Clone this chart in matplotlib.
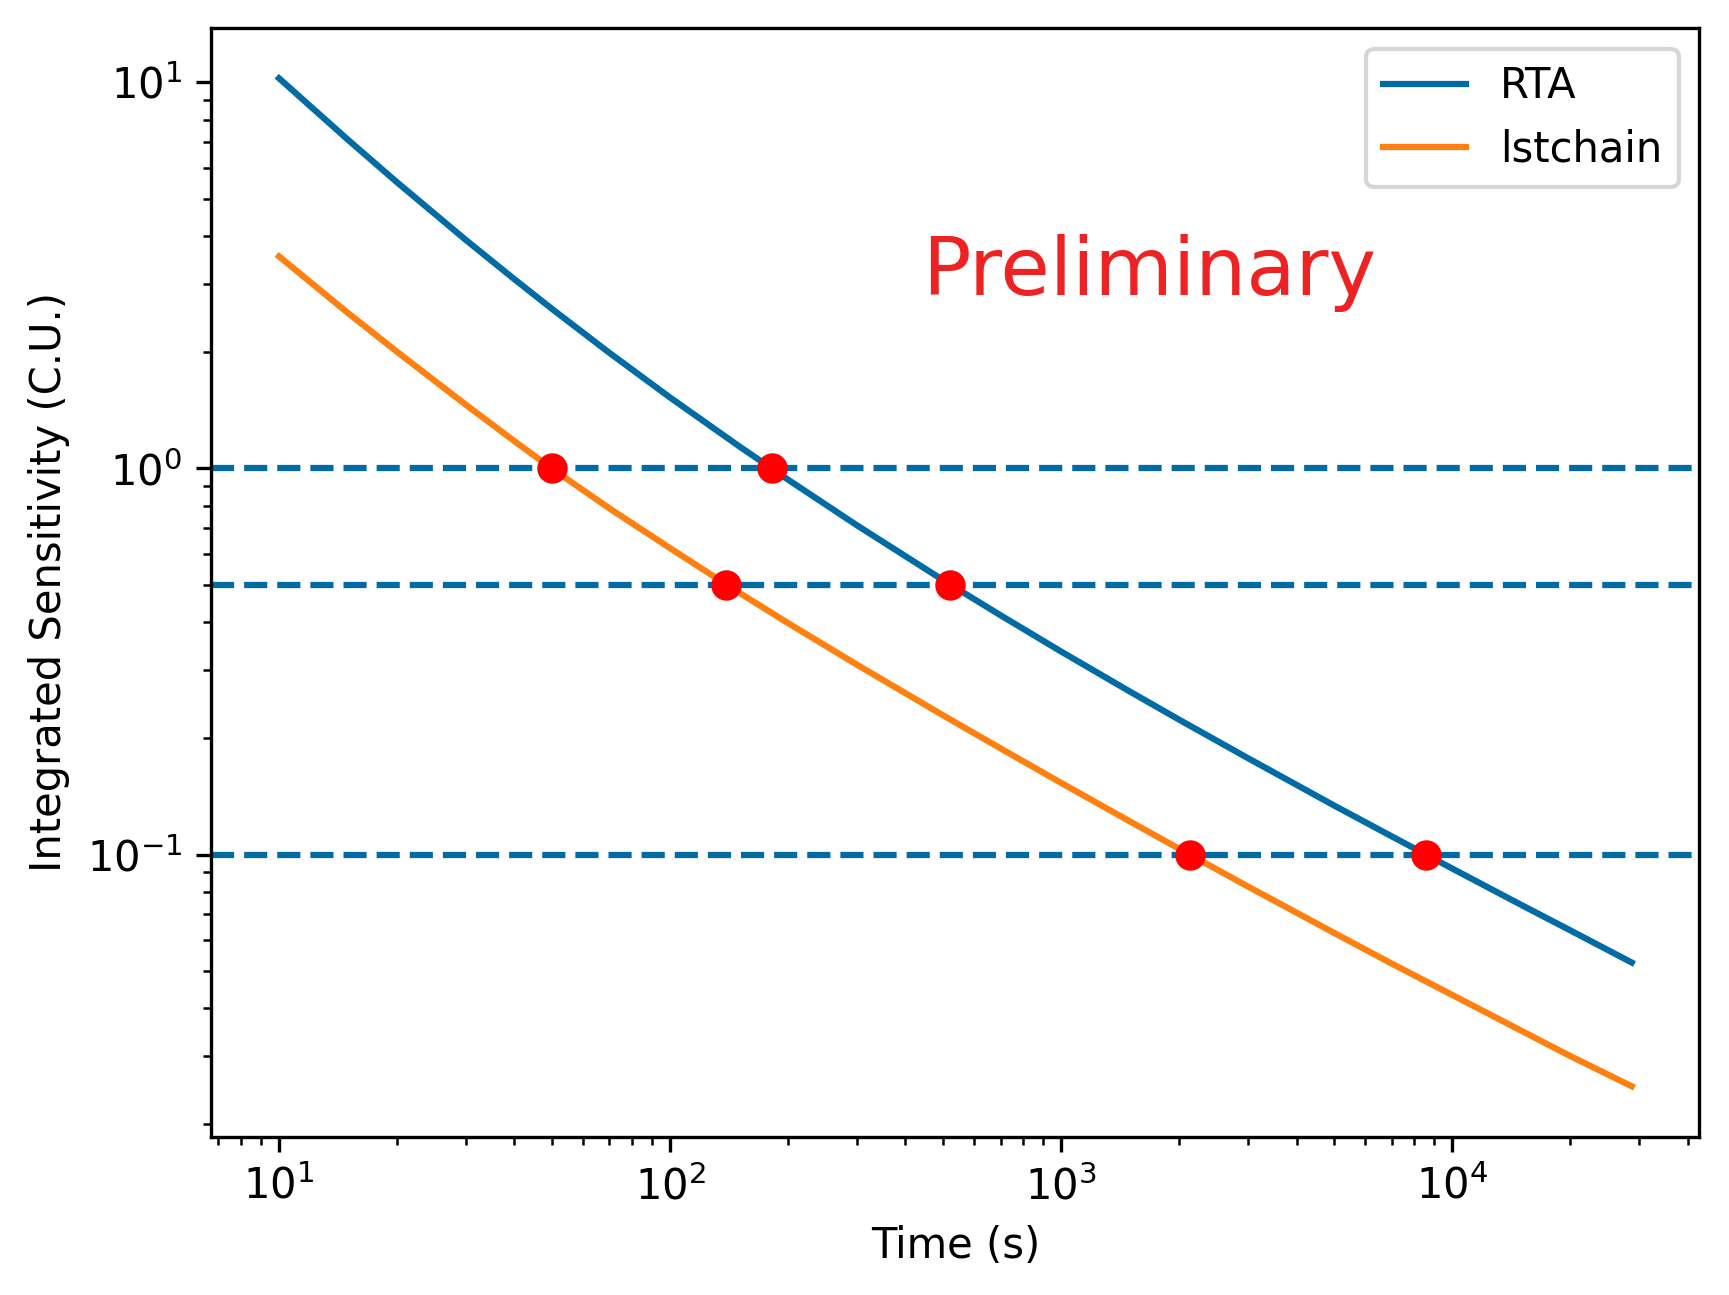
import matplotlib
matplotlib.use("Agg")
import matplotlib.pyplot as plt

plt.style.use("tableau-colorblind10")

# Data
time_s = [10, 15, 20, 30, 40, 50, 70, 100, 150, 200, 300, 500, 700, 1000, 1500,
          2000, 3000, 5000, 7000, 10000, 15000, 20000, 28800]
rta_sens = [10.24, 7.10, 5.515, 3.909, 3.089, 2.584, 1.991, 1.526, 1.142, 0.936,
            0.713, 0.513, 0.4165, 0.3355, 0.2642, 0.2237, 0.1778, 0.1338, 0.1115,
            0.0920, 0.0741, 0.0637, 0.0525]
lst_sens = [3.54, 2.527, 2.007, 1.463, 1.176, 0.997, 0.7876, 0.6214, 0.4770, 0.3979,
            0.3105, 0.2291, 0.1883, 0.1533, 0.1218, 0.1036, 0.0827, 0.0626, 0.0522,
            0.0433, 0.0350, 0.0301, 0.0251]

levels = [1.0, 0.5, 0.1]
rta_cross_t = [182, 521, 8580]
lst_cross_t = [49.8, 139, 2140]

series_labels = ["RTA", "lstchain"]

fig = plt.figure(figsize=(1729 / 300, 1295 / 300), dpi=300)
ax = fig.add_axes([0.12227, 0.12224, 0.86061, 0.85622])

ax.plot(time_s, rta_sens, label=series_labels[0])
ax.plot(time_s, lst_sens, label=series_labels[1])
ax.set_xscale("log")
ax.set_yscale("log")

for lv in levels:
    ax.axhline(lv, color="C0", linestyle="--")

ax.plot(rta_cross_t, levels, "o", color="red", markersize=6.3)
ax.plot(lst_cross_t, levels, "o", color="red", markersize=6.3)

ax.set_xlabel("Time (s)")
ax.set_ylabel("Integrated Sensitivity (C.U.)")
ax.legend(loc="upper right")
ax.text(0.630, 0.759, "Preliminary", transform=ax.transAxes, ha="center",
        va="baseline", fontsize=19.3, color="#EE2222")

fig.savefig("out.png", dpi=300)
